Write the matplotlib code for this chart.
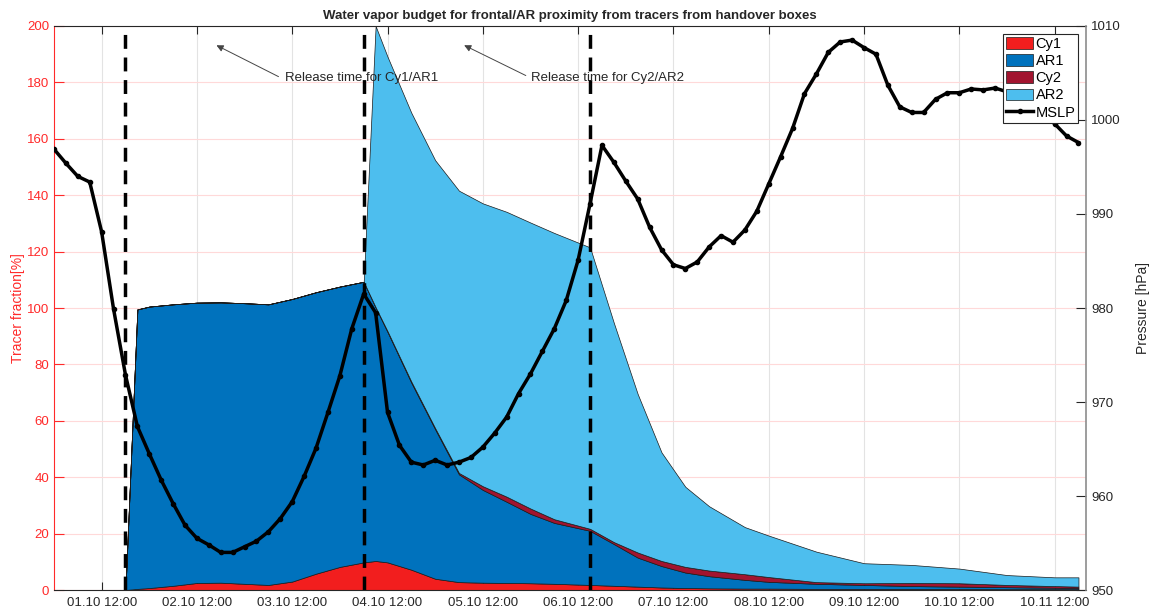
import numpy as np
import matplotlib.pyplot as plt

plt.rcParams['font.family'] = ['Liberation Sans', 'DejaVu Sans']

# time axis in days since 01.10 00:00
mslp_step = 0.125  # 3 hourly
mslp = [996.9, 995.4, 994.0, 993.4, 988.1, 979.9, 972.9, 967.4, 964.5, 961.7,
        959.2, 956.9, 955.5, 954.8, 954.0, 954.0, 954.6, 955.2, 956.2, 957.6,
        959.4, 962.1, 965.1, 968.9, 972.8, 977.8, 981.5, 979.5, 968.9, 965.4,
        963.6, 963.3, 963.8, 963.3, 963.6, 964.1, 965.2, 966.7, 968.4, 970.9,
        973.0, 975.4, 977.8, 980.8, 985.1, 991.1, 997.3, 995.5, 993.5, 991.6,
        988.6, 986.2, 984.6, 984.2, 984.9, 986.5, 987.7, 987.0, 988.3, 990.3,
        993.2, 996.1, 999.1, 1002.8, 1004.9, 1007.2, 1008.3, 1008.5, 1007.7, 1007.0,
        1003.7, 1001.4, 1000.8, 1000.8, 1002.2, 1002.9, 1002.9, 1003.3, 1003.2, 1003.4,
        1003.0, 1002.5, 1001.8, 1000.7, 999.6, 998.3, 997.6]

t_tr = [0.75, 0.875, 1.0, 1.25, 1.5, 1.75, 2.0, 2.25, 2.5, 2.75, 3.0, 3.25,
        3.375, 3.5, 3.75, 4.0, 4.25, 4.5, 4.75, 5.0, 5.25, 5.625, 5.875, 6.125,
        6.375, 6.625, 6.875, 7.25, 7.5, 8.0, 8.5, 9.0, 9.5, 10.0, 10.5, 10.75]
# cumulative tops
cy1_top = [0, 0.4, 0.7, 1.5, 2.5, 2.6, 2.2, 1.8, 3.0, 5.8, 8.2, 9.8,
           10.3, 9.8, 7.2, 4.0, 2.8, 2.6, 2.5, 2.4, 2.2, 1.8, 1.5, 1.2,
           0.9, 0.7, 0.6, 0.5, 0.5, 0.4, 0.4, 0.4, 0.4, 0.3, 0.3, 0.3]
ar1_top = [0, 99.5, 100.5, 101.3, 101.9, 102.0, 101.7, 101.3, 103.2, 105.6, 107.6, 109.3,
           100.2, 91.5, 73.5, 57.0, 41.0, 35.5, 31.3, 27.0, 23.8, 21.0, 16.3, 11.5,
           8.5, 6.2, 4.9, 3.6, 2.9, 2.2, 1.8, 1.4, 1.2, 1.0, 0.8, 0.7]
cy2_top = [0, 99.5, 100.5, 101.3, 101.9, 102.0, 101.7, 101.3, 103.2, 105.6, 107.6, 109.3,
           100.3, 91.8, 73.9, 57.4, 41.5, 36.8, 33.1, 28.9, 25.1, 21.7, 17.0, 13.3,
           10.3, 8.2, 6.9, 5.6, 4.6, 2.8, 2.4, 2.5, 2.4, 1.8, 1.4, 1.2]
ar2_top = [0, 99.5, 100.5, 101.3, 101.9, 102.0, 101.7, 101.3, 103.2, 105.6, 107.6, 109.3,
           200, 189.1, 169.2, 152.4, 141.6, 137.1, 134.1, 130.3, 126.6, 121.5, 94.7, 69.5,
           48.8, 36.6, 29.7, 22.3, 19.3, 13.6, 9.5, 8.9, 7.6, 5.3, 4.5, 4.5]

cy1 = np.array(cy1_top)
ar1 = np.array(ar1_top) - np.array(cy1_top)
cy2 = np.array(cy2_top) - np.array(ar1_top)
ar2 = np.array(ar2_top) - np.array(cy2_top)

release_times = [0.75, 3.25, 5.625]
tick_days = [0.5, 1.5, 2.5, 3.5, 4.5, 5.5, 6.5, 7.5, 8.5, 9.5, 10.5]
tick_labels = ['01.10 12:00', '02.10 12:00', '03.10 12:00', '04.10 12:00', '05.10 12:00',
               '06.10 12:00', '07.10 12:00', '08.10 12:00', '09.10 12:00', '10.10 12:00',
               '10.11 12:00']

red = '#ff2a2a'
dark = '#262626'

fig = plt.figure(figsize=(11.51, 6.13), dpi=100)
ax = fig.add_axes([0.0469, 0.0375, 0.8967, 0.9201])
ax.set_axisbelow(True)

polys = ax.stackplot(t_tr, cy1, ar1, cy2, ar2,
                     colors=['#f21e1e', '#0072bd', '#a2142f', '#4dbeee'],
                     edgecolor='#1a1a1a', linewidth=0.5)
for rt in release_times:
    ax.axvline(rt, color='black', linestyle=(0, (4, 2.5)), linewidth=2.5)

ax.set_xlim(0, 10.83)
ax.set_ylim(0, 200)
ax.set_yticks(np.arange(0, 201, 20))
ax.set_xticks(tick_days)
ax.set_xticklabels(tick_labels)
ax.grid(axis='x', color='#e3e3e3', linewidth=0.8)
ax.grid(axis='y', color='#ffd9d9', linewidth=0.8)
ax.tick_params(axis='x', direction='in', top=True, length=6, colors=dark,
               labelsize=9.5, pad=5)
ax.tick_params(axis='y', direction='in', length=7, color=red, labelcolor=red,
               labelsize=9.5)
ax.spines['left'].set_color(red)
for s in ['top', 'bottom']:
    ax.spines[s].set_color(dark)
ax.spines['right'].set_visible(False)
ax.set_ylabel('Tracer fraction[%]', color=red, fontsize=10, labelpad=1)

ax.set_title('Water vapor budget for frontal/AR proximity from tracers from handover boxes',
             fontsize=9.5, fontweight='bold', color=dark, pad=5)

ax.annotate('', xy=(1.679, 193.6), xytext=(2.382, 181.6),
            arrowprops=dict(arrowstyle='-|>', color='#444444', lw=0.7,
                            mutation_scale=10))
ax.text(2.42, 181.6, 'Release time for Cy1/AR1', fontsize=9.5, color=dark,
        ha='left', va='center')
ax.annotate('', xy=(4.278, 193.6), xytext=(4.977, 182.0),
            arrowprops=dict(arrowstyle='-|>', color='#444444', lw=0.7,
                            mutation_scale=10))
ax.text(5.01, 181.6, 'Release time for Cy2/AR2', fontsize=9.5, color=dark,
        ha='left', va='center')

ax2 = ax.twinx()
t_mslp = np.arange(len(mslp)) * mslp_step
line, = ax2.plot(t_mslp, mslp, color='black', linewidth=2.5, marker='o',
                 markersize=3)
ax2.set_ylim(950, 1010)
ax2.set_yticks(np.arange(950, 1011, 10))
ax2.tick_params(axis='y', direction='in', length=7, colors=dark, labelsize=9.5)
ax2.spines['right'].set_color('#8c8c8c')
ax2.spines['right'].set_linewidth(1.2)
ax2.spines['left'].set_visible(False)
ax2.spines['top'].set_visible(False)
ax2.spines['bottom'].set_visible(False)
ax2.set_ylabel('Pressure [hPa]', color=dark, fontsize=10, labelpad=11)

leg = ax2.legend(list(polys) + [line], ['Cy1', 'AR1', 'Cy2', 'AR2', 'MSLP'],
                 loc='upper right', bbox_to_anchor=(0.9925, 0.986),
                 fontsize=10.5, fancybox=False, framealpha=1, edgecolor=dark,
                 borderpad=0.2, labelspacing=0.22, handletextpad=0.15,
                 handlelength=1.9, handleheight=0.85, borderaxespad=0)
leg.get_frame().set_linewidth(0.8)

fig.savefig('out.png', dpi=100)
